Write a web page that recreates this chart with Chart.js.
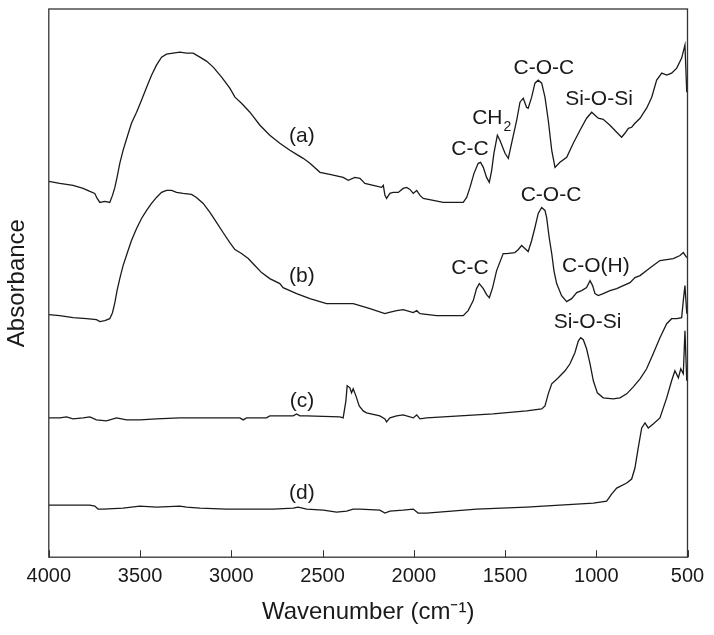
<!DOCTYPE html>
<html lang="en">
<head>
  <meta charset="UTF-8">
  <title>FTIR spectra</title>
  <script src="https://cdn.jsdelivr.net/npm/chart.js"></script>
  <style>
    html, body {
      margin: 0;
      padding: 0;
      background: #fff;
    }
    .chart-box {
      position: relative;
      width: 714px;
      height: 635px;
    }
  </style>
</head>
<body>
  <div class="chart-box">
    <canvas id="ftirChart"></canvas>
  </div>

  <script>
    // spectra: wavenumber (cm-1) and absorbance (arbitrary units, offset per curve)
    const waveA = [4000, 3940, 3867, 3812, 3775, 3748, 3735, 3720, 3693, 3666, 3651, 3638, 3626, 3611, 3593, 3571, 3547, 3519, 3492, 3464, 3437, 3410, 3382, 3355, 3319, 3282, 3245, 3209, 3172, 3136, 3099, 3053, 3008, 2980, 2944, 2898, 2843, 2789, 2734, 2679, 2642, 2606, 2569, 2514, 2460, 2387, 2359, 2323, 2295, 2268, 2222, 2176, 2167, 2158, 2149, 2131, 2113, 2085, 2058, 2039, 2021, 2003, 1984, 1966, 1948, 1893, 1839, 1729, 1710, 1692, 1670, 1647, 1634, 1619, 1601, 1586, 1573, 1561, 1542, 1528, 1500, 1482, 1464, 1436, 1418, 1400, 1382, 1373, 1354, 1336, 1318, 1299, 1281, 1263, 1244, 1226, 1199, 1162, 1126, 1089, 1053, 1025, 1007, 989, 962, 925, 888, 861, 843, 824, 806, 788, 760, 742, 724, 696, 669, 641, 614, 587, 559, 532, 514, 504];
    const absA = [375, 373, 371, 368, 365, 363, 358, 354, 355, 354, 361, 369, 379, 393, 406, 419, 433, 444, 456, 469, 481, 491, 499, 502, 503, 504, 503, 503, 499, 495, 489, 479, 468, 459, 453, 444, 431, 421, 413, 406, 402, 398, 393, 384, 382, 379, 376, 379, 378, 373, 371, 369, 371, 361, 358, 363, 364, 364, 368, 369, 367, 363, 366, 361, 358, 356, 354, 354, 359, 369, 383, 393, 394, 389, 379, 374, 386, 403, 421, 416, 403, 398, 413, 436, 454, 458, 449, 448, 459, 473, 476, 473, 459, 436, 406, 389, 394, 399, 413, 426, 438, 444, 441, 438, 437, 431, 424, 419, 423, 428, 429, 433, 438, 443, 448, 459, 476, 483, 481, 483, 488, 498, 511, 464];

    const waveB = [4000, 3940, 3867, 3793, 3739, 3720, 3693, 3666, 3651, 3638, 3626, 3611, 3593, 3571, 3547, 3519, 3492, 3464, 3437, 3410, 3382, 3355, 3327, 3300, 3264, 3218, 3191, 3154, 3117, 3081, 3045, 3008, 2980, 2944, 2907, 2871, 2834, 2789, 2734, 2716, 2642, 2569, 2478, 2332, 2295, 2240, 2158, 2140, 2094, 2058, 2003, 1984, 1966, 1875, 1729, 1702, 1674, 1656, 1641, 1619, 1601, 1586, 1568, 1546, 1510, 1491, 1446, 1427, 1409, 1391, 1373, 1354, 1336, 1318, 1299, 1281, 1272, 1258, 1244, 1232, 1217, 1190, 1162, 1135, 1107, 1080, 1053, 1034, 1020, 1007, 989, 962, 925, 888, 852, 815, 788, 760, 724, 688, 651, 614, 578, 541, 523, 504];
    const absB = [242, 241, 239, 238, 237, 235, 236, 238, 244, 254, 266, 278, 291, 303, 316, 328, 338, 346, 353, 359, 364, 366, 366, 364, 363, 362, 359, 353, 344, 334, 324, 314, 307, 303, 298, 291, 284, 278, 273, 269, 263, 258, 253, 253, 251, 248, 243, 244, 246, 247, 244, 246, 243, 241, 241, 246, 256, 268, 273, 268, 262, 259, 269, 286, 303, 303, 304, 307, 311, 308, 305, 316, 329, 343, 349, 346, 339, 319, 303, 286, 273, 261, 255, 258, 264, 266, 269, 276, 271, 263, 261, 263, 266, 268, 271, 274, 279, 281, 286, 291, 296, 297, 298, 301, 304, 299];

    const waveC = [4000, 3940, 3903, 3867, 3812, 3775, 3739, 3684, 3629, 3574, 3501, 3410, 3282, 2953, 2935, 2916, 2807, 2789, 2661, 2642, 2624, 2587, 2405, 2387, 2372, 2365, 2350, 2341, 2332, 2317, 2299, 2277, 2259, 2186, 2158, 2149, 2131, 2094, 2058, 2003, 1984, 1966, 1930, 1747, 1565, 1382, 1299, 1281, 1263, 1244, 1208, 1171, 1144, 1117, 1098, 1085, 1071, 1053, 1034, 1016, 994, 962, 907, 870, 833, 797, 760, 724, 688, 651, 614, 587, 559, 532, 523, 514, 504];
    const absC = [139, 139, 140, 138, 139, 140, 137, 136, 139, 137, 137, 138, 139, 139, 137, 139, 139, 141, 141, 143, 141, 141, 140, 139, 156, 171, 169, 164, 168, 161, 151, 146, 144, 141, 138, 135, 139, 141, 142, 139, 142, 138, 139, 141, 143, 146, 148, 151, 163, 173, 179, 186, 193, 204, 216, 219, 217, 208, 193, 176, 164, 159, 158, 159, 163, 170, 178, 188, 203, 219, 233, 238, 238, 239, 256, 271, 243];

    const waveD = [4000, 3867, 3775, 3748, 3730, 3702, 3593, 3501, 3410, 3282, 3245, 3172, 3026, 2770, 2661, 2634, 2587, 2496, 2423, 2368, 2332, 2295, 2186, 2158, 2131, 2058, 2003, 1976, 1930, 1656, 1382, 1199, 1016, 943, 916, 888, 833, 806, 788, 770, 751, 733, 715, 688, 651, 614, 587, 569, 550, 537, 523, 514, 504];
    const absD = [52, 52, 52, 51, 48, 48, 49, 51, 50, 51, 50, 49, 48, 48, 49, 50, 48, 47, 45, 46, 48, 48, 47, 44, 46, 47, 48, 44, 44, 48, 50, 52, 54, 56, 63, 69, 74, 78, 89, 109, 129, 134, 129, 133, 139, 159, 176, 186, 179, 188, 183, 226, 176];

    const seriesNames = ['(a)', '(b)', '(c)', '(d)'];
    const xTicks = [4000, 3500, 3000, 2500, 2000, 1500, 1000, 500];

    // text labels placed at (wavenumber, absorbance)
    const notes = [
      { text: '(a)', wn: 2613, y: 421 },
      { text: '(b)', wn: 2613, y: 281 },
      { text: '(c)', wn: 2613, y: 157 },
      { text: '(d)', wn: 2613, y: 65 },
      { text: 'C-C', wn: 1692, y: 408 },
      { text: 'CH', sub: '2', wn: 1514, y: 438 },
      { text: 'C-O-C', wn: 1287, y: 489 },
      { text: 'Si-O-Si', wn: 985, y: 458 },
      { text: 'C-O-C', wn: 1248, y: 362 },
      { text: 'C-C', wn: 1692, y: 289 },
      { text: 'C-O(H)', wn: 1002, y: 291 },
      { text: 'Si-O-Si', wn: 1048, y: 235 }
    ];

    const FONT = "'Liberation Sans', Arial, sans-serif";
    const INK = '#1a1a1a';

    function toPoints(xs, ys) {
      return xs.map((x, i) => ({ x: x, y: ys[i] }));
    }

    const framePlugin = {
      id: 'frame',
      afterDraw(chart) {
        const { ctx, chartArea: a, scales } = chart;
        ctx.save();
        ctx.strokeStyle = '#333';
        ctx.lineWidth = 1.3;
        ctx.strokeRect(a.left, a.top, a.right - a.left, a.bottom - a.top);

        // inward tick marks on the bottom axis
        ctx.lineWidth = 1;
        xTicks.forEach(v => {
          const px = Math.round(scales.x.getPixelForValue(v)) + 0.5;
          ctx.beginPath();
          ctx.moveTo(px, a.bottom);
          ctx.lineTo(px, a.bottom - 7);
          ctx.stroke();
        });

        ctx.fillStyle = INK;
        ctx.textBaseline = 'middle';
        notes.forEach(n => {
          const px = scales.x.getPixelForValue(n.wn);
          const py = scales.y.getPixelForValue(n.y);
          ctx.font = '21px ' + FONT;
          if (n.sub) {
            ctx.textAlign = 'right';
            ctx.fillText(n.text, px, py);
            ctx.textAlign = 'left';
            ctx.font = '14px ' + FONT;
            ctx.fillText(n.sub, px + 1, py + 9);
          } else {
            ctx.textAlign = 'center';
            ctx.fillText(n.text, px, py + 1);
          }
        });
        ctx.restore();
      }
    };

    const lineStyle = {
      borderColor: INK,
      borderWidth: 1.3,
      pointRadius: 0,
      fill: false,
      tension: 0
    };

    const ctx = document.getElementById('ftirChart').getContext('2d');
    new Chart(ctx, {
      type: 'line',
      data: {
        datasets: [
          { label: seriesNames[0], data: toPoints(waveA, absA), ...lineStyle },
          { label: seriesNames[1], data: toPoints(waveB, absB), ...lineStyle },
          { label: seriesNames[2], data: toPoints(waveC, absC), ...lineStyle },
          { label: seriesNames[3], data: toPoints(waveD, absD), ...lineStyle }
        ]
      },
      options: {
        responsive: true,
        maintainAspectRatio: false,
        animation: false,
        devicePixelRatio: 1,
        layout: { padding: { top: 9, right: 26.5, bottom: 0, left: 0 } },
        plugins: {
          legend: { display: false },
          tooltip: { enabled: false }
        },
        scales: {
          x: {
            type: 'linear',
            reverse: true,
            min: 500,
            max: 4000,
            afterBuildTicks: scale => {
              scale.ticks = xTicks.map(v => ({ value: v }));
            },
            ticks: {
              color: INK,
              font: { family: FONT, size: 20 },
              padding: 7,
              maxRotation: 0,
              autoSkip: false,
              callback: v => String(v)
            },
            grid: { display: false, drawTicks: false, tickLength: 0 },
            border: { display: false },
            title: {
              display: true,
              text: 'Wavenumber (cm⁻¹)',
              color: INK,
              font: { family: FONT, size: 24 },
              padding: { top: 3, bottom: 8 }
            }
          },
          y: {
            min: 0,
            max: 547,
            ticks: { display: false },
            grid: { display: false, drawTicks: false, tickLength: 0 },
            border: { display: false },
            title: {
              display: true,
              text: 'Absorbance',
              color: INK,
              font: { family: FONT, size: 24 },
              padding: { top: 3, bottom: 17 }
            }
          }
        }
      },
      plugins: [framePlugin]
    });
  </script>
</body>
</html>
